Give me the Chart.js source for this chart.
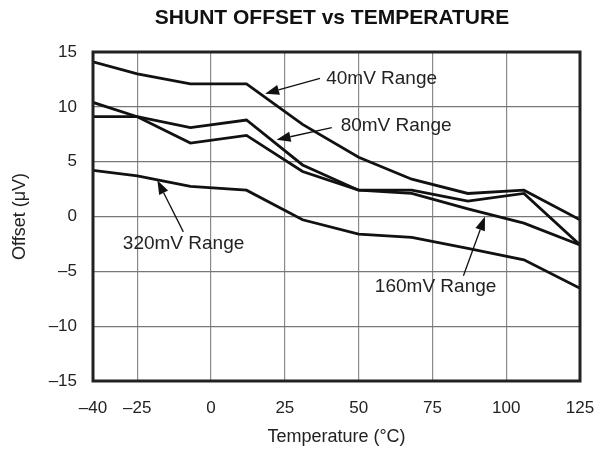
<!DOCTYPE html>
<html>
<head>
<meta charset="utf-8">
<script src="https://cdn.jsdelivr.net/npm/chart.js@4.4.1/dist/chart.umd.min.js"></script>
<style>
  html, body { margin: 0; padding: 0; background: #fff; }
  #wrap { width: 606px; height: 454px; }
</style>
</head>
<body>
<div id="wrap"><canvas id="offsetChart" width="606" height="454"></canvas></div>
<script>
// Temperatures the offsets were measured at (°C)
const temps = [-40, -25, -7, 12, 31, 50, 68, 87, 106, 125];

// Offset (µV) for each shunt range
const range40 = [14.1, 13.0, 12.1, 12.1, 8.4, 5.4, 3.4, 2.1, 2.4, -0.3];
const range80 = [9.1, 9.1, 8.1, 8.8, 4.7, 2.4, 2.4, 1.4, 2.1, -2.6];
const range160 = [10.4, 9.1, 6.7, 7.4, 4.1, 2.4, 2.1, 0.7, -0.6, -2.6];
const range320 = [4.2, 3.7, 2.75, 2.4, -0.3, -1.6, -1.9, -2.9, -3.95, -6.55];

// Axis ticks
const xTicks = [-40, -25, 0, 25, 50, 75, 100, 125];
const yTicks = [-15, -10, -5, 0, 5, 10, 15];

// Callout labels: text, where the text starts, and the arrow (data units)
const noteText = ['40mV Range', '80mV Range', '320mV Range', '160mV Range'];
const noteAt = [[39.0, 12.6], [43.9, 8.25], [-29.9, -2.5], [55.5, -6.4]];
const arrowFrom = [[36.9, 12.6], [40.9, 8.1], [-9.4, -1.4], [85.5, -5.4]];
const arrowTo = [[18.3, 11.2], [22.2, 7.0], [-18.2, 3.3], [92.8, 0.0]];

const FONT = "'Liberation Sans', Arial, Helvetica, sans-serif";
const dash = v => (v < 0 ? '\u2013' + Math.abs(v) : '' + v);

function series(label, values) {
    return {
        label: label,
        data: temps.map((t, i) => ({ x: t, y: values[i] })),
        borderColor: '#111',
        borderWidth: 2.8,
        pointRadius: 0,
        tension: 0,
        fill: false
    };
}

// Frame round the plot, title over the plot, and the arrow callouts
const calloutPlugin = {
    id: 'callouts',
    afterLayout(chart) {
        const t = chart.titleBlock;
        if (t) {
            t.left = chart.chartArea.left - 9;
            t.right = chart.chartArea.right;
        }
    },
    afterDatasetsDraw(chart) {
        const { ctx, chartArea: a, scales: { x, y } } = chart;
        ctx.save();
        ctx.strokeStyle = '#222';
        ctx.lineWidth = 3;
        ctx.strokeRect(a.left, a.top, a.right - a.left, a.bottom - a.top);

        ctx.font = '19px ' + FONT;
        ctx.textBaseline = 'middle';
        ctx.textAlign = 'left';
        noteText.forEach((txt, i) => {
            ctx.fillStyle = '#222';
            ctx.fillText(txt, x.getPixelForValue(noteAt[i][0]), y.getPixelForValue(noteAt[i][1]));

            const x0 = x.getPixelForValue(arrowFrom[i][0]), y0 = y.getPixelForValue(arrowFrom[i][1]);
            const x1 = x.getPixelForValue(arrowTo[i][0]), y1 = y.getPixelForValue(arrowTo[i][1]);
            const ang = Math.atan2(y1 - y0, x1 - x0);
            const len = 14, half = 5;
            const bx = x1 - len * Math.cos(ang), by = y1 - len * Math.sin(ang);

            ctx.lineWidth = 1.3;
            ctx.strokeStyle = '#111';
            ctx.beginPath();
            ctx.moveTo(x0, y0);
            ctx.lineTo(bx, by);
            ctx.stroke();

            ctx.beginPath();
            ctx.moveTo(x1, y1);
            ctx.lineTo(bx + half * Math.sin(ang), by - half * Math.cos(ang));
            ctx.lineTo(bx - half * Math.sin(ang), by + half * Math.cos(ang));
            ctx.closePath();
            ctx.fillStyle = '#111';
            ctx.fill();
        });
        ctx.restore();
    }
};

const ctx = document.getElementById('offsetChart').getContext('2d');
const offsetChart = new Chart(ctx, {
    type: 'line',
    data: {
        datasets: [
            series('40mV Range', range40),
            series('80mV Range', range80),
            series('160mV Range', range160),
            series('320mV Range', range320)
        ]
    },
    options: {
        responsive: false,
        animation: false,
        layout: { padding: 0 },
        plugins: {
            legend: { display: false },
            tooltip: { enabled: false },
            title: {
                display: true,
                text: 'SHUNT OFFSET vs TEMPERATURE',
                color: '#111',
                font: { family: FONT, size: 21, weight: 'bold' },
                padding: { top: 6, bottom: 20.8 }
            }
        },
        scales: {
            x: {
                type: 'linear',
                min: -40,
                max: 125,
                afterBuildTicks: s => { s.ticks = xTicks.map(v => ({ value: v })); },
                afterFit: s => { s.height = 73; s.paddingRight = 26; },
                grid: { color: '#8a8a8a', lineWidth: 1.2, drawTicks: false },
                border: { display: false },
                ticks: {
                    color: '#222',
                    padding: 17.5,
                    font: { family: FONT, size: 17 },
                    callback: v => dash(v)
                },
                title: {
                    display: true,
                    text: 'Temperature (°C)',
                    color: '#222',
                    font: { family: FONT, size: 18 },
                    padding: { top: 0, bottom: 6 }
                }
            },
            y: {
                min: -15,
                max: 15,
                afterBuildTicks: s => { s.ticks = yTicks.map(v => ({ value: v })); },
                afterFit: s => { s.width = 93; },
                grid: { color: '#777', lineWidth: 1.2, drawTicks: false },
                border: { display: false },
                ticks: {
                    color: '#222',
                    padding: 16,
                    font: { family: FONT, size: 17 },
                    callback: v => dash(v)
                },
                title: {
                    display: true,
                    text: 'Offset (μV)',
                    color: '#222',
                    font: { family: FONT, size: 18 },
                    padding: { top: 9, bottom: 0 }
                }
            }
        }
    },
    plugins: [calloutPlugin]
});
</script>
</body>
</html>
